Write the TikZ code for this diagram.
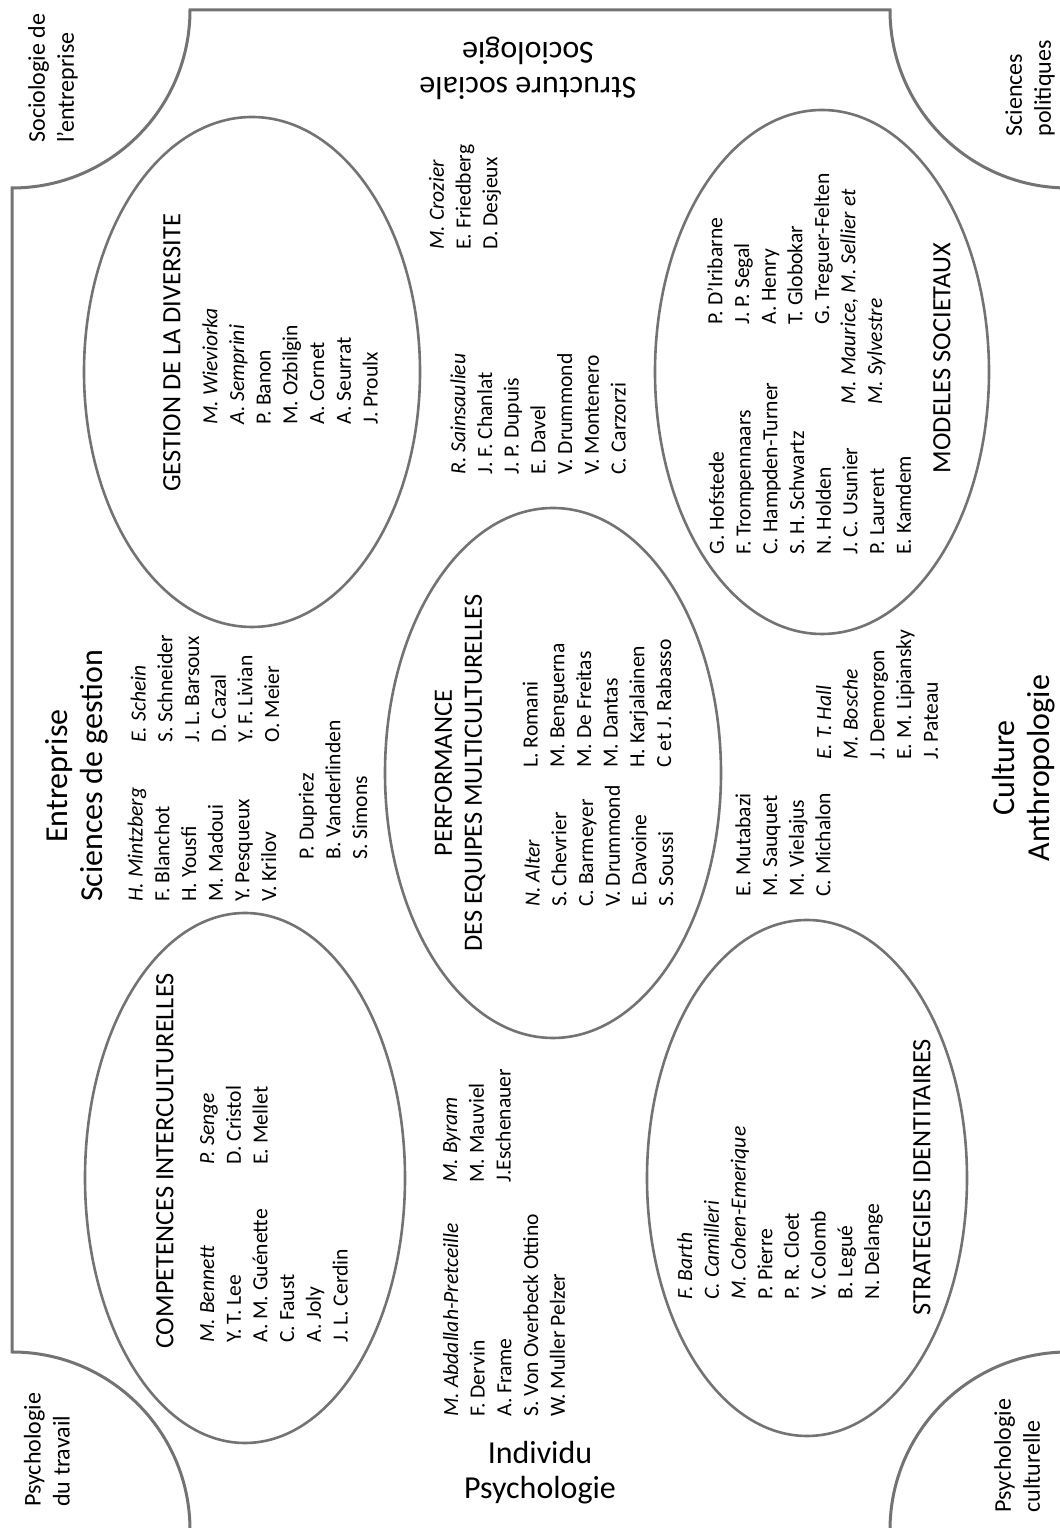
\documentclass[tikz,border=0pt]{standalone}
\usepackage{fontspec}
\setmainfont{Carlito}
\usetikzlibrary{positioning}
\tikzset{
  rim/.style={draw=black!55, line width=1.5pt},
  bubble/.style={draw=black!55, line width=1.3pt},
  names/.style={font=\fontsize{10.8}{13.35}\selectfont, align=left, anchor=west, inner sep=0pt},
  field/.style={font=\fontsize{16}{17.5}\selectfont, align=center, inner sep=0pt},
  theme/.style={font=\fontsize{13.2}{15}\selectfont, align=center, inner sep=0pt},
  corner/.style={font=\fontsize{12}{14.5}\selectfont, align=left, anchor=west, inner sep=0pt}
}
\begin{document}
\begin{tikzpicture}[x=0.5pt, y=-0.5pt, rotate=90, transform shape]
    \useasboundingbox (0,0) rectangle (1528,1060);

    \draw[rim] (176,12) -- (1340,12) arc[start angle=180, end angle=90, radius=178]
        -- (1518,890) arc[start angle=270, end angle=180, radius=178]
        -- (176,1068) arc[start angle=0, end angle=-90, radius=178]
        -- (-2,190) arc[start angle=90, end angle=0, radius=178] -- cycle;

    \coordinate (gestion) at (1156,252);
    \coordinate (competences) at (350,245);
    \coordinate (performance) at (755,553);
    \coordinate (modeles) at (1156,822);
    \coordinate (strategies) at (350,807);

    \draw[bubble] (gestion) ellipse [x radius=255, y radius=168];
    \draw[bubble] (competences) ellipse [x radius=265, y radius=160];
    \draw[bubble] (performance) ellipse [x radius=265, y radius=168];
    \draw[bubble] (modeles) ellipse [x radius=262, y radius=167];
    \draw[bubble] (strategies) ellipse [x radius=258, y radius=160];

    \node[field] (entreprise) at (752,77) {Entreprise\\Sciences de gestion};
    \node[field] (culture) at (760,1024) {Culture\\Anthropologie};
    \node[field, rotate=-90] (individu) at (55,540) {Individu\\Psychologie};
    \node[field, rotate=90] (structure) at (1460,528) {Structure sociale\\Sociologie};

    \node[corner] (socent) at (1385,53) {Sociologie de\\l’entreprise};
    \node[corner] (scipol) at (1391,1030) {Sciences\\politiques};
    \node[corner] (psytrav) at (21,47) {Psychologie\\du travail};
    \node[corner] (psycult) at (15,1017) {Psychologie\\culturelle};

    \node[theme] (tgestion) at (1175,172) {GESTION DE LA DIVERSITE};
    \node[theme] (tcompet) at (367,165) {COMPETENCES INTERCULTURELLES};
    \node[theme] (tperf) at (755,460) {PERFORMANCE\\DES EQUIPES MULTICULTURELLES};
    \node[theme] (tmodel) at (1170,942) {MODELES SOCIETAUX};
    \node[theme] (tstrat) at (351,922) {STRATEGIES IDENTITAIRES};

    \node[names] (wieviorka) at (1103,290) {\textit{M. Wieviorka}\\\textit{A. Semprini}\\P. Banon\\M. Ozbilgin\\A. Cornet\\A. Seurrat\\J. Proulx};
    \node[names] (crozier) at (1278,465) {\textit{M. Crozier}\\E. Friedberg\\D. Desjeux};
    \node[names] (sainsaulieu) at (1053,538) {\textit{R. Sainsaulieu}\\J. F. Chanlat\\J. P. Dupuis\\E. Davel\\V. Drummond\\V. Montenero\\C. Carzorzi};
    \node[names] (hofstede) at (973,810) {G. Hofstede\\F. Trompennaars\\C. Hampden-Turner\\S. H. Schwartz\\N. Holden\\J. C. Usunier\\P. Laurent\\E. Kamdem};
    \node[names] (iribarne) at (1203,770) {P. D’Iribarne\\J. P. Segal\\A. Henry\\T. Globokar\\G. Treguer-Felten};
    \node[names] (maurice) at (1123,863) {\textit{M. Maurice, M. Sellier et}\\\textit{M. Sylvestre}};
    \node[names] (alter) at (621,599) {\textit{N. Alter}\\S. Chevrier\\C. Barmeyer\\V. Drummond\\E. Davoine\\S. Soussi};
    \node[names] (romani) at (760,597) {L. Romani\\M. Benguerna\\M. De Freitas\\M. Dantas\\H. Karjalainen\\C et J. Rabasso};
    \node[names] (mintzberg) at (626,202) {\textit{H. Mintzberg}\\F. Blanchot\\H. Yousfi\\M. Madoui\\Y. Pesqueux\\V. Krilov};
    \node[names] (schein) at (785,205) {\textit{E. Schein}\\S. Schneider\\J. L. Barsoux\\D. Cazal\\Y. F. Livian\\O. Meier};
    \node[names] (dupriez) at (668,333) {P. Dupriez\\B. Vanderlinden\\S. Simons};
    \node[names] (bennett) at (185,274) {\textit{M. Bennett}\\Y. T. Lee\\A. M. Guénette\\C. Faust\\A. Joly\\J. L. Cerdin};
    \node[names] (senge) at (363,234) {\textit{P. Senge}\\D. Cristol\\E. Mellet};
    \node[names] (byram) at (345,477) {\textit{M. Byram}\\M. Mauviel\\J.Eschenauer};
    \node[names] (abdallah) at (111,504) {\textit{M. Abdallah-Pretceille}\\F. Dervin\\A. Frame\\S. Von Overbeck Ottino\\W. Muller Pelzer};
    \node[names] (mutabazi) at (631,783) {E. Mutabazi\\M. Sauquet\\M. Vielajus\\C. Michalon};
    \node[names] (hall) at (768,877) {\textit{E. T. Hall}\\\textit{M. Bosche}\\J. Demorgon\\E. M. Lipiansky\\J. Pateau};
    \node[names] (barth) at (228,780) {\textit{F. Barth}\\\textit{C. Camilleri}\\\textit{M. Cohen-Emerique}\\P. Pierre\\P. R. Cloet\\V. Colomb\\B. Legué\\N. Delange};
\end{tikzpicture}
\end{document}
